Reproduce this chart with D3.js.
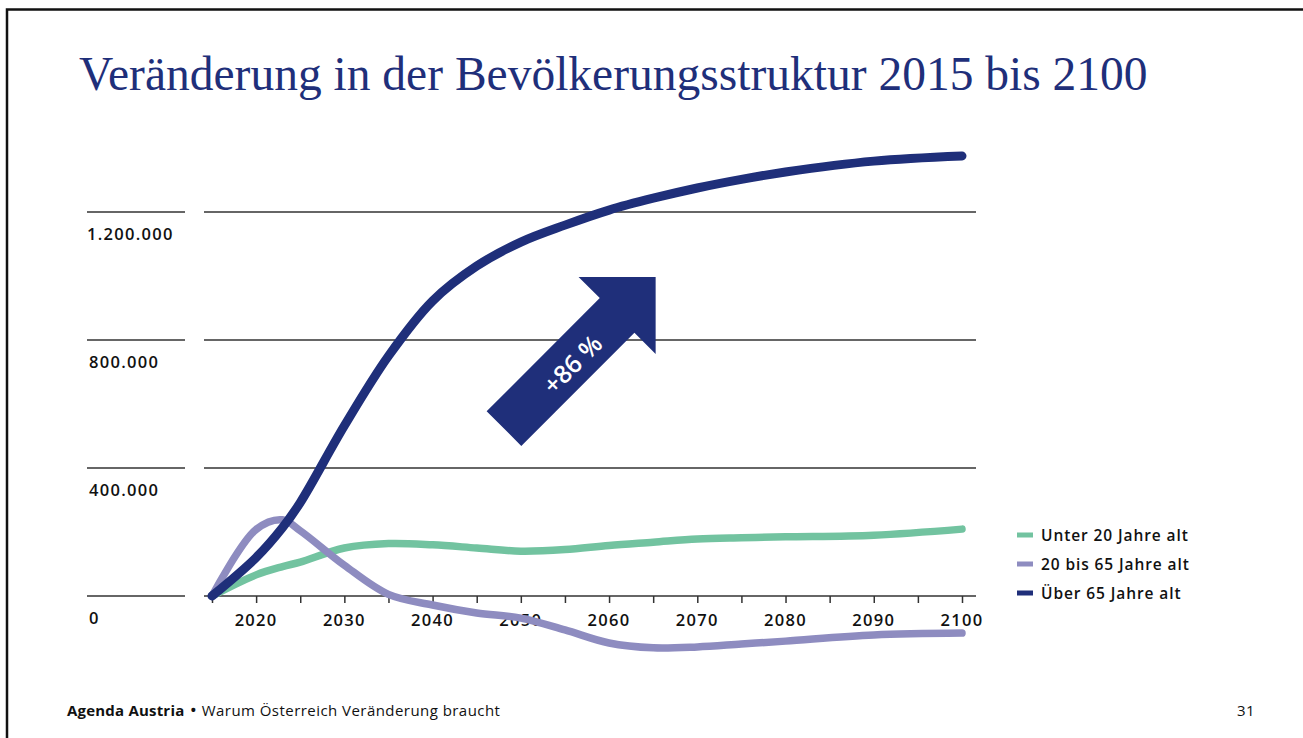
<!DOCTYPE html>
<html>
<head>
<meta charset="utf-8">
<script src="https://cdn.jsdelivr.net/npm/d3@7"></script>
<style>
  body { margin: 0; background: #fff; }
  svg { display: block; }
  .tick-label { font-family: "Open Sans", Lato, sans-serif; font-weight: 600; font-size: 16.5px; letter-spacing: 1.3px; fill: #111; }
  .legend-label { font-family: "Open Sans", Lato, sans-serif; font-weight: 600; font-size: 15.5px; letter-spacing: 0.9px; fill: #111; }
  .footer { font-family: "Open Sans", Lato, sans-serif; font-size: 15px; letter-spacing: 0.45px; fill: #111; }
</style>
</head>
<body>
<div class="chart"></div>
<script>
// data
const years = [2015, 2020, 2023, 2025, 2030, 2035, 2040, 2045, 2050, 2055, 2060, 2065, 2070, 2075, 2080, 2090, 2100]
const unter20 = [0, 66000, 92000, 106000, 150000, 164000, 160000, 150000, 140000, 145000, 158000, 168000, 178000, 182000, 185000, 190000, 209000]
const mitte = [0, 208000, 238000, 204000, 96000, 5000, -28000, -53000, -69000, -106000, -147000, -162000, -159000, -150000, -141000, -122000, -116000]
const ueber65 = [0, 120000, 214000, 292000, 532000, 750000, 922000, 1031000, 1106000, 1159000, 1206000, 1243000, 1275000, 1302000, 1325000, 1359000, 1375000]

const seriesNames = ['Unter 20 Jahre alt', '20 bis 65 Jahre alt', 'Über 65 Jahre alt']
const seriesColors = ['#72c3a0', '#8e8cc0', '#1f2f7a']
const yTicks = [0, 400000, 800000, 1200000]
const yTickLabels = ['0', '400.000', '800.000', '1.200.000']
const xLabelTicks = [2020, 2030, 2040, 2050, 2060, 2070, 2080, 2090, 2100]
const arrowText = '+86 %'

const width = 1303
const height = 738
const navy = '#1f2f7a'

const svg = d3.select('.chart')
  .append('svg')
  .attr('width', width)
  .attr('height', height)

// slide frame (only top & left visible)
svg.append('rect')
  .attr('x', 7)
  .attr('y', 9.5)
  .attr('width', width + 20)
  .attr('height', height + 20)
  .attr('fill', 'none')
  .attr('stroke', '#111')
  .attr('stroke-width', 2.5)

// title
const title = svg.append('text')
  .attr('x', 79)
  .attr('y', 90)
  .attr('font-family', '"Liberation Serif", "DejaVu Serif", serif')
  .attr('font-size', 46)
  .attr('fill', navy)
  .text('Veränderung in der Bevölkerungsstruktur 2015 bis 2100')

// fit title width to reference
const tw = title.node().getComputedTextLength()
title.attr('font-size', 46 * 1069 / tw)

const x = d3.scaleLinear()
  .domain([2015, 2100])
  .range([212, 962])

const y = d3.scaleLinear()
  .domain([0, 1200000])
  .range([596, 212])

// gridlines, split in a label part and a plot part
const grid = svg.append('g').attr('class', 'grid')
yTicks.forEach(t => {
  grid.append('line')
    .attr('x1', 87).attr('x2', 185)
    .attr('y1', y(t)).attr('y2', y(t))
    .attr('stroke', '#333').attr('stroke-width', 1.5)
  grid.append('line')
    .attr('x1', 204).attr('x2', 976)
    .attr('y1', y(t)).attr('y2', y(t))
    .attr('stroke', '#333').attr('stroke-width', 1.5)
})

svg.append('g')
  .selectAll('text')
  .data(yTicks)
  .join('text')
  .attr('class', 'tick-label')
  .attr('x', (d, i) => i === 3 ? 87 : 89)
  .attr('y', d => y(d) + 28)
  .text((d, i) => yTickLabels[i])

// x axis ticks
const xAxis = d3.axisBottom(x)
  .tickValues(d3.range(2015, 2101, 5))
  .tickSize(7)
  .tickFormat('')

const gx = svg.append('g')
  .attr('transform', `translate(0, ${y(0)})`)
  .call(xAxis)
gx.select('.domain').remove()
gx.selectAll('.tick line').attr('stroke', '#333').attr('stroke-width', 1.5)

svg.append('g')
  .selectAll('text')
  .data(xLabelTicks)
  .join('text')
  .attr('class', 'tick-label')
  .attr('x', d => x(d))
  .attr('y', y(0) + 30)
  .attr('text-anchor', 'middle')
  .text(d => d)

// lines
const line = d3.line()
  .x(d => x(d[0]))
  .y(d => y(d[1]))
  .curve(d3.curveCatmullRom.alpha(0.5))

const allSeries = [unter20, mitte, ueber65]
const strokeWidths = [7.5, 7.5, 9]

allSeries.forEach((vals, i) => {
  svg.append('path')
    .datum(years.map((yr, j) => [yr, vals[j]]))
    .attr('d', line)
    .attr('fill', 'none')
    .attr('stroke', seriesColors[i])
    .attr('stroke-width', strokeWidths[i])
    .attr('stroke-linecap', 'round')
    .attr('stroke-linejoin', 'round')
})

// +86 % arrow, anchored in data space
const arrowCx = x(2054.5)
const arrowCy = y(700000)
const arrow = svg.append('g')
  .attr('transform', `translate(${arrowCx},${arrowCy}) rotate(-45)`)

// local coords: arrow points to +x
arrow.append('path')
  .attr('d', 'M-80,-24.5 L80,-24.5 L80,-54.5 L134.5,0 L80,54.5 L80,24.5 L-80,24.5 Z')
  .attr('fill', navy)

arrow.append('text')
  .attr('x', 14)
  .attr('y', 12)
  .attr('text-anchor', 'middle')
  .attr('font-family', '"Open Sans", Lato, sans-serif')
  .attr('font-weight', 600)
  .attr('font-size', 25)
  .attr('fill', '#fff')
  .text(arrowText)

// legend
const legend = svg.append('g')
  .attr('transform', 'translate(1017, 535)')

const order = [0, 1, 2]
order.forEach((k, i) => {
  legend.append('rect')
    .attr('x', 0)
    .attr('y', i * 29 - 2.5)
    .attr('width', 16)
    .attr('height', 5)
    .attr('fill', seriesColors[k])
  legend.append('text')
    .attr('class', 'legend-label')
    .attr('x', 24)
    .attr('y', i * 29 + 5.5)
    .text(seriesNames[k])
})

// footer
const foot = svg.append('text')
  .attr('class', 'footer')
  .attr('x', 67)
  .attr('y', 716)
foot.append('tspan').attr('font-weight', 700).attr('letter-spacing', 0.2).text('Agenda Austria')
foot.append('tspan').attr('font-size', 19).attr('dy', 1).text(' •')
foot.append('tspan').attr('dy', -1).text(' Warum Österreich Veränderung braucht')

svg.append('text')
  .attr('class', 'footer')
  .attr('x', 1237)
  .attr('y', 716)
  .text('31')
</script>
</body>
</html>
